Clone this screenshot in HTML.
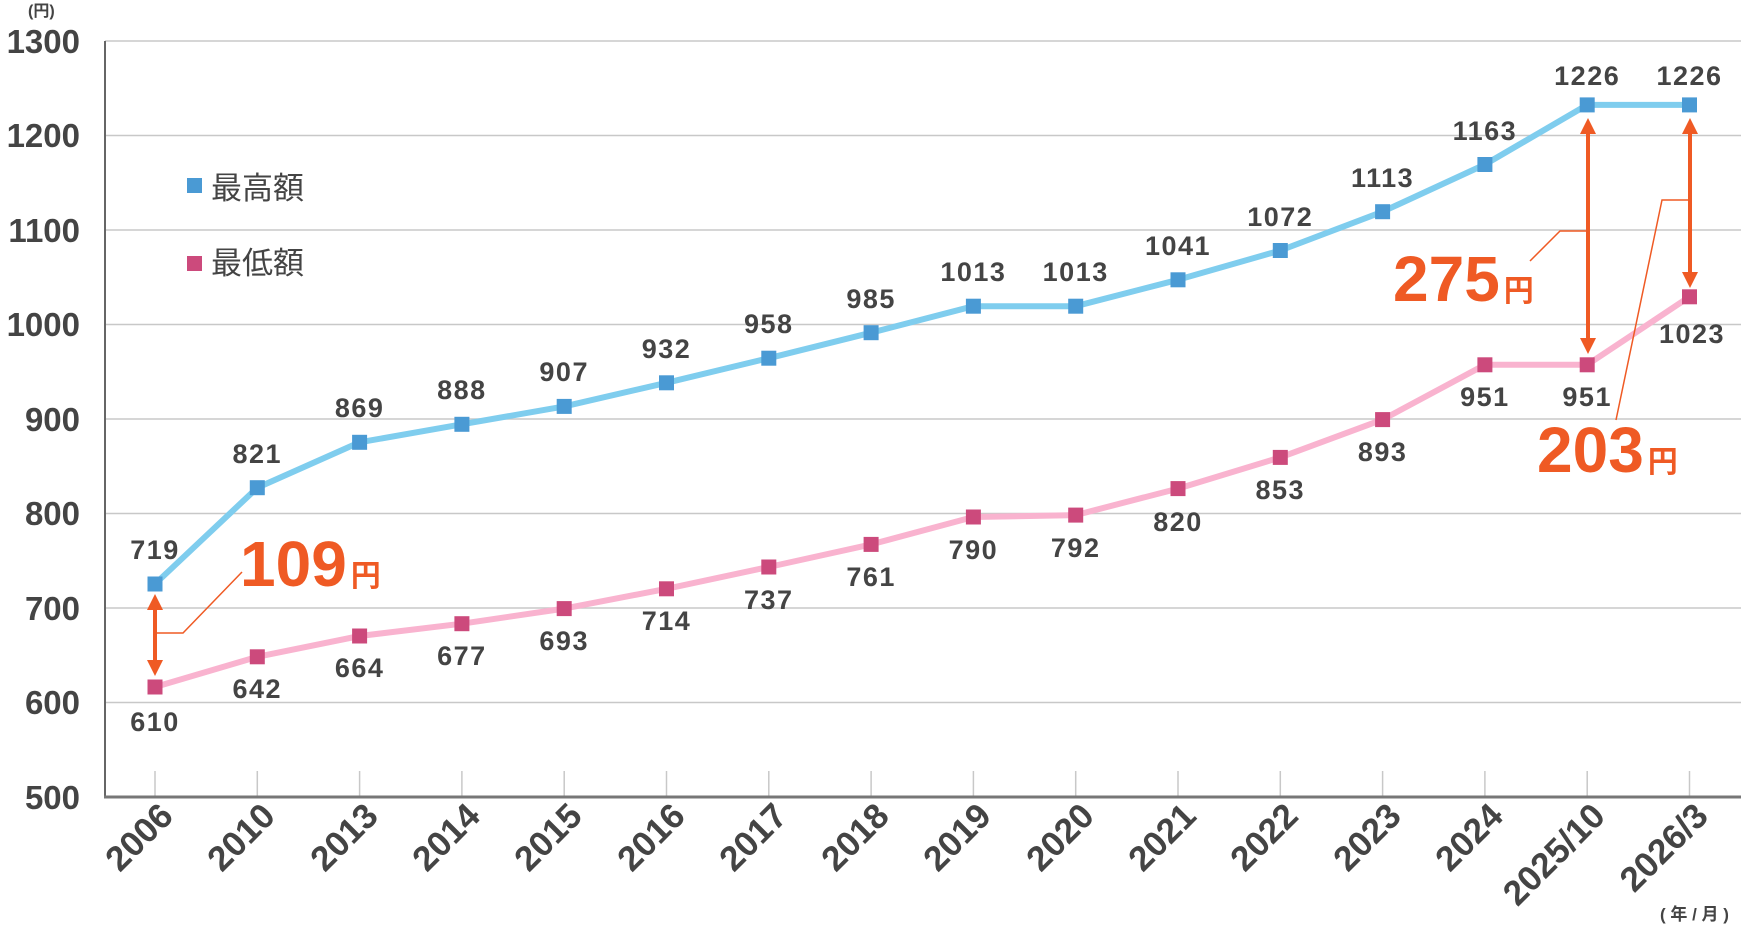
<!DOCTYPE html>
<html><head><meta charset="utf-8"><style>
html,body{margin:0;padding:0;background:#fff;}
svg{display:block;font-family:"Liberation Sans","Noto Sans CJK JP",sans-serif;}
</style></head><body>
<svg width="1741" height="936" viewBox="0 0 1741 936" xmlns="http://www.w3.org/2000/svg">
<defs>
<marker id="ah" viewBox="0 0 10 10" refX="5" refY="5" markerWidth="4" markerHeight="4" orient="auto-start-reverse"><path d="M0,0L10,5L0,10z" fill="#ef5a24"/></marker>
</defs>
<g stroke="#c8c8c8" stroke-width="1.5">
<line x1="105" y1="41" x2="1741" y2="41"/><line x1="105" y1="135.5" x2="1741" y2="135.5"/><line x1="105" y1="230" x2="1741" y2="230"/><line x1="105" y1="324.5" x2="1741" y2="324.5"/><line x1="105" y1="419" x2="1741" y2="419"/><line x1="105" y1="513.5" x2="1741" y2="513.5"/><line x1="105" y1="608" x2="1741" y2="608"/><line x1="105" y1="702.5" x2="1741" y2="702.5"/>
<line x1="155" y1="771" x2="155" y2="797"/><line x1="257.3" y1="771" x2="257.3" y2="797"/><line x1="359.6" y1="771" x2="359.6" y2="797"/><line x1="461.9" y1="771" x2="461.9" y2="797"/><line x1="564.2" y1="771" x2="564.2" y2="797"/><line x1="666.5" y1="771" x2="666.5" y2="797"/><line x1="768.8" y1="771" x2="768.8" y2="797"/><line x1="871.1" y1="771" x2="871.1" y2="797"/><line x1="973.4" y1="771" x2="973.4" y2="797"/><line x1="1075.7" y1="771" x2="1075.7" y2="797"/><line x1="1178" y1="771" x2="1178" y2="797"/><line x1="1280.3" y1="771" x2="1280.3" y2="797"/><line x1="1382.6" y1="771" x2="1382.6" y2="797"/><line x1="1484.9" y1="771" x2="1484.9" y2="797"/><line x1="1587.2" y1="771" x2="1587.2" y2="797"/><line x1="1689.5" y1="771" x2="1689.5" y2="797"/>
</g>
<line x1="105" y1="41" x2="105" y2="797" stroke="#666" stroke-width="2"/>
<line x1="104" y1="797" x2="1741" y2="797" stroke="#777" stroke-width="3"/>
<g font-size="33" font-weight="bold" fill="#444" text-anchor="end">
<text x="80" y="53">1300</text><text x="80" y="147">1200</text><text x="80" y="242">1100</text><text x="80" y="336">1000</text><text x="80" y="431">900</text><text x="80" y="525">800</text><text x="80" y="620">700</text><text x="80" y="714">600</text><text x="80" y="809">500</text>
</g>
<text x="28" y="16" font-size="16" font-weight="bold" fill="#444">(円)</text>
<g font-size="35" font-weight="bold" fill="#444" text-anchor="end">
<text transform="translate(175,818) rotate(-45)">2006</text>
<text transform="translate(277,818) rotate(-45)">2010</text>
<text transform="translate(380,818) rotate(-45)">2013</text>
<text transform="translate(482,818) rotate(-45)">2014</text>
<text transform="translate(584,818) rotate(-45)">2015</text>
<text transform="translate(687,818) rotate(-45)">2016</text>
<text transform="translate(789,818) rotate(-45)">2017</text>
<text transform="translate(891,818) rotate(-45)">2018</text>
<text transform="translate(993,818) rotate(-45)">2019</text>
<text transform="translate(1096,818) rotate(-45)">2020</text>
<text transform="translate(1198,818) rotate(-45)">2021</text>
<text transform="translate(1300,818) rotate(-45)">2022</text>
<text transform="translate(1403,818) rotate(-45)">2023</text>
<text transform="translate(1505,818) rotate(-45)">2024</text>
<text transform="translate(1607,818) rotate(-45)">2025/10</text>
<text transform="translate(1710,818) rotate(-45)">2026/3</text>
</g>
<text x="1660" y="920" font-size="17" font-weight="bold" fill="#444">( 年 / 月 )</text>
<polyline fill="none" stroke="#7fcdee" stroke-width="6" stroke-linejoin="round" points="155,584 257.3,487.7 359.6,442.3 461.9,424.3 564.2,406.4 666.5,382.8 768.8,358.2 871.1,332.7 973.4,306.2 1075.7,306.2 1178,279.8 1280.3,250.5 1382.6,211.7 1484.9,164.5 1587.2,104.9 1689.5,104.9"/>
<polyline fill="none" stroke="#f9b3cf" stroke-width="6" stroke-linejoin="round" points="155,687 257.3,656.8 359.6,636 461.9,623.7 564.2,608.6 666.5,588.8 768.8,567 871.1,544.4 973.4,517 1075.7,515.1 1178,488.6 1280.3,457.4 1382.6,419.6 1484.9,364.8 1587.2,364.8 1689.5,296.8"/>
<g fill="#4a9ad4">
<rect x="147.5" y="576.5" width="15" height="15"/><rect x="249.8" y="480.2" width="15" height="15"/><rect x="352.1" y="434.8" width="15" height="15"/><rect x="454.4" y="416.8" width="15" height="15"/><rect x="556.7" y="398.9" width="15" height="15"/><rect x="659" y="375.3" width="15" height="15"/><rect x="761.3" y="350.7" width="15" height="15"/><rect x="863.6" y="325.2" width="15" height="15"/><rect x="965.9" y="298.7" width="15" height="15"/><rect x="1068.2" y="298.7" width="15" height="15"/><rect x="1170.5" y="272.3" width="15" height="15"/><rect x="1272.8" y="243" width="15" height="15"/><rect x="1375.1" y="204.2" width="15" height="15"/><rect x="1477.4" y="157" width="15" height="15"/><rect x="1579.7" y="97.4" width="15" height="15"/><rect x="1682" y="97.4" width="15" height="15"/>
</g>
<g fill="#cc4a7c">
<rect x="147.5" y="679.5" width="15" height="15"/><rect x="249.8" y="649.3" width="15" height="15"/><rect x="352.1" y="628.5" width="15" height="15"/><rect x="454.4" y="616.2" width="15" height="15"/><rect x="556.7" y="601.1" width="15" height="15"/><rect x="659" y="581.3" width="15" height="15"/><rect x="761.3" y="559.5" width="15" height="15"/><rect x="863.6" y="536.9" width="15" height="15"/><rect x="965.9" y="509.5" width="15" height="15"/><rect x="1068.2" y="507.6" width="15" height="15"/><rect x="1170.5" y="481.1" width="15" height="15"/><rect x="1272.8" y="449.9" width="15" height="15"/><rect x="1375.1" y="412.1" width="15" height="15"/><rect x="1477.4" y="357.3" width="15" height="15"/><rect x="1579.7" y="357.3" width="15" height="15"/><rect x="1682" y="289.3" width="15" height="15"/>
</g>
<g font-size="27" font-weight="bold" fill="#444" text-anchor="middle" letter-spacing="1.5">
<text x="155" y="559">719</text><text x="257.3" y="463">821</text><text x="359.6" y="417">869</text><text x="461.9" y="399">888</text><text x="564.2" y="381">907</text><text x="666.5" y="358">932</text><text x="768.8" y="333">958</text><text x="871.1" y="308">985</text><text x="973.4" y="281">1013</text><text x="1075.7" y="281">1013</text><text x="1178" y="255">1041</text><text x="1280.3" y="226">1072</text><text x="1382.6" y="187">1113</text><text x="1484.9" y="140">1163</text><text x="1587.2" y="85">1226</text><text x="1689.5" y="85">1226</text>
<text x="155" y="731">610</text><text x="257.3" y="698">642</text><text x="359.6" y="677">664</text><text x="461.9" y="665">677</text><text x="564.2" y="650">693</text><text x="666.5" y="630">714</text><text x="768.8" y="609">737</text><text x="871.1" y="586">761</text><text x="973.4" y="559">790</text><text x="1075.7" y="557">792</text><text x="1178" y="531">820</text><text x="1280.3" y="499">853</text><text x="1382.6" y="461">893</text><text x="1484.9" y="406">951</text><text x="1587.2" y="406">951</text><text x="1692" y="343">1023</text>
</g>
<rect x="187" y="178" width="15" height="15" fill="#4a9ad4"/>
<rect x="187" y="256" width="15" height="15" fill="#cc4a7c"/>
<text x="211" y="199" font-size="31" fill="#444">最高額</text>
<text x="211" y="274" font-size="31" fill="#444">最低額</text>
<g stroke="#ef5a24" fill="none">
<line x1="155" y1="602" x2="155" y2="668" stroke-width="4" marker-start="url(#ah)" marker-end="url(#ah)"/>
<line x1="1588" y1="126" x2="1588" y2="346" stroke-width="4" marker-start="url(#ah)" marker-end="url(#ah)"/>
<line x1="1690" y1="126" x2="1690" y2="280" stroke-width="4" marker-start="url(#ah)" marker-end="url(#ah)"/>
<polyline points="157,633 183,633 242,572" stroke-width="1.5"/>
<polyline points="1586,231 1560,231 1530,261" stroke-width="1.5"/>
<polyline points="1688,200 1662,200 1616,420" stroke-width="1.5"/>
</g>
<g font-weight="bold" fill="#ef5a24">
<text x="240" y="586" font-size="64" letter-spacing="0">109<tspan font-size="30" dx="4">円</tspan></text>
<text x="1393" y="301" font-size="64" letter-spacing="0">275<tspan font-size="30" dx="4">円</tspan></text>
<text x="1537" y="472" font-size="64" letter-spacing="0">203<tspan font-size="30" dx="4">円</tspan></text>
</g>
</svg>
</body></html>
